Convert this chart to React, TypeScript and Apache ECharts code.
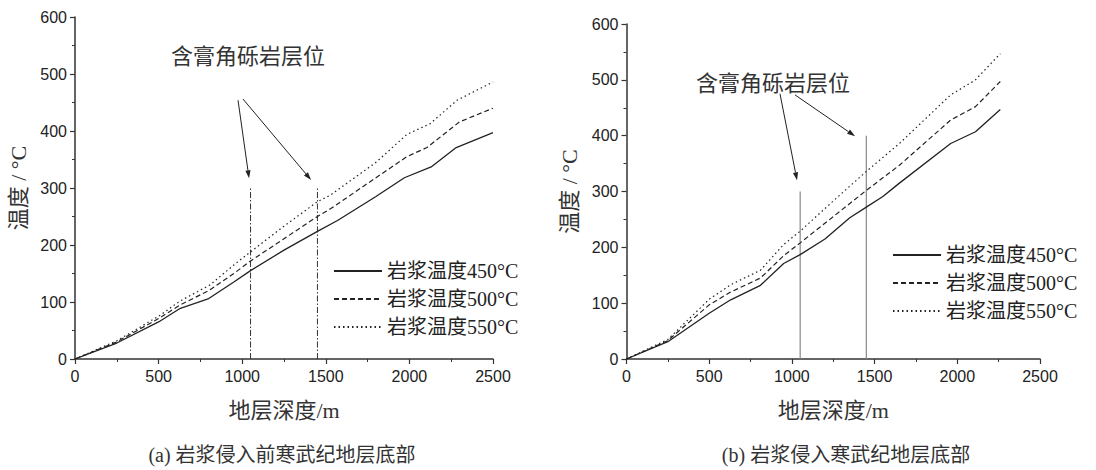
import React, { useEffect, useRef } from 'react';
import * as echarts from 'echarts';

// ---- data (depth m, temperature °C) ----
const seriesNames = ['岩浆温度450°C', '岩浆温度500°C', '岩浆温度550°C'];

const leftT450: [number, number][] = [[0,0],[250,28],[500,65],[630,89],[800,106],[950,135],[1050,155],[1250,191],[1450,224],[1570,243],[1800,285],[1970,318],[2130,337],[2280,371],[2500,397]];
const leftT500: [number, number][] = [[0,0],[250,30],[500,71],[630,95],[800,120],[950,150],[1050,172],[1250,211],[1450,250],[1530,264],[1800,318],[1985,355],[2105,371],[2300,416],[2500,440]];
const leftT550: [number, number][] = [[0,0],[250,32],[500,75],[630,102],[808,130],[950,165],[1050,188],[1250,233],[1450,276],[1530,288],[1800,345],[1985,394],[2125,413],[2285,454],[2500,486]];

const rightT450: [number, number][] = [[0,0],[250,31],[500,82],[630,106],[810,132],[950,171],[1050,187],[1200,215],[1350,253],[1450,272],[1550,291],[1650,315],[1960,386],[2110,407],[2260,447]];
const rightT500: [number, number][] = [[0,0],[250,33],[500,97],[630,120],[810,145],[950,185],[1050,208],[1250,255],[1450,302],[1650,347],[1960,428],[2110,452],[2260,497]];
const rightT550: [number, number][] = [[0,0],[250,35],[500,107],[630,133],[810,159],[950,205],[1050,229],[1250,283],[1450,336],[1650,386],[1960,473],[2110,500],[2260,547]];

// gypsum-breccia horizon markers: depth, top temperature
const leftMarkers: [number, number][] = [[1050, 300], [1450, 300]];
const rightMarkers: [number, number][] = [[1050, 300], [1450, 400]];

const annotationText = '含膏角砾岩层位';
// annotation anchor points in data coordinates: label centre, arrow starts and tips
const leftLabelAt: [number, number] = [1035, 530];
const leftArrows: [number, number, number, number][] = [[975, 454, 1041, 317], [1005, 456, 1412, 314]];
const rightLabelAt: [number, number] = [886, 493];
const rightArrows: [number, number, number, number][] = [[928, 475, 1031, 320], [1019, 473, 1382, 399]];

const captions = ['(a) 岩浆侵入前寒武纪地层底部', '(b) 岩浆侵入寒武纪地层底部'];
const xTitle = '地层深度/m';
const yTitle = '温度 / °C';

const SERIF = "'Liberation Serif', 'Noto Sans CJK SC', serif";
const SANS = "'Liberation Sans', Arial, sans-serif";
const INK = '#222';

const lineStyles = [
  { type: 'solid' as any, width: 1.3 },
  { type: [5, 3] as any, width: 1.2 },
  { type: [1.5, 3] as any, width: 1.2 },
];

const plain = (v: number) => String(v);

function makeXAxis(gridIndex: number) {
  return {
    gridIndex,
    type: 'value',
    min: 0,
    max: 2500,
    interval: 500,
    name: xTitle,
    nameLocation: 'middle',
    nameGap: 40,
    nameTextStyle: { fontFamily: SERIF, fontSize: 22, color: '#333' },
    axisLine: { show: true, onZero: false, lineStyle: { color: '#333', width: 1.5 } },
    axisTick: { show: true, inside: false, length: 5, lineStyle: { color: '#333', width: 1.2 } },
    minorTick: { show: true, splitNumber: 2, length: 3, lineStyle: { color: '#333', width: 1 } },
    splitLine: { show: false },
    axisLabel: { fontFamily: SANS, fontSize: 16, color: INK, margin: 9, formatter: plain },
  };
}

function makeYAxis(gridIndex: number) {
  return {
    gridIndex,
    type: 'value',
    min: 0,
    max: 600,
    interval: 100,
    name: yTitle,
    nameLocation: 'middle',
    nameGap: 46,
    nameTextStyle: { fontFamily: SERIF, fontSize: 22, color: '#333' },
    axisLine: { show: true, onZero: false, lineStyle: { color: '#333', width: 1.5 } },
    axisTick: { show: true, inside: false, length: 5, lineStyle: { color: '#333', width: 1.2 } },
    minorTick: { show: true, splitNumber: 2, length: 3, lineStyle: { color: '#333', width: 1 } },
    splitLine: { show: false },
    axisLabel: { fontFamily: SANS, fontSize: 16, color: INK, margin: 8, formatter: plain },
  };
}

function dataSeries(name: string, data: [number, number][], idx: number, styleIdx: number) {
  return {
    type: 'line',
    name,
    xAxisIndex: idx,
    yAxisIndex: idx,
    data,
    symbol: 'none',
    showSymbol: false,
    color: INK,
    lineStyle: { color: INK, ...lineStyles[styleIdx] },
    z: 3,
  };
}

function markerSeries(m: [number, number], idx: number, style: any) {
  return {
    type: 'line',
    name: 'marker' + idx + '_' + m[0],
    xAxisIndex: idx,
    yAxisIndex: idx,
    data: [[m[0], 0], [m[0], m[1]]],
    symbol: 'none',
    showSymbol: false,
    lineStyle: style,
    silent: true,
    z: 2,
  };
}

function legendFor(left: number, top: number) {
  return {
    data: seriesNames,
    left,
    top,
    orient: 'vertical',
    itemWidth: 48,
    itemHeight: 14,
    itemGap: 8,
    selectedMode: false,
    itemStyle: { opacity: 0 },
    textStyle: { fontFamily: SERIF, fontSize: 20, color: INK, lineHeight: 20 },
  };
}

function arrowGraphics(p0: number[], p1: number[]) {
  const dx = p1[0] - p0[0];
  const dy = p1[1] - p0[1];
  const len = Math.sqrt(dx * dx + dy * dy);
  const ux = dx / len, uy = dy / len;
  const hl = 8, hw = 2.6;
  const bx = p1[0] - ux * hl, by = p1[1] - uy * hl;
  return [
    { type: 'line', shape: { x1: p0[0], y1: p0[1], x2: bx, y2: by }, style: { stroke: INK, lineWidth: 1 }, silent: true },
    {
      type: 'polygon',
      shape: { points: [[p1[0], p1[1]], [bx - uy * hw, by + ux * hw], [bx + uy * hw, by - ux * hw]] },
      style: { fill: INK },
      silent: true,
    },
  ];
}

export default function App() {
  const ref = useRef<HTMLDivElement>(null);
  useEffect(() => {
    if (!ref.current) return;
    const chart = echarts.init(ref.current, null, { renderer: 'svg' });
    const leftSeries = [leftT450, leftT500, leftT550].map((d, i) => dataSeries(seriesNames[i], d, 0, i));
    const rightSeries = [rightT450, rightT500, rightT550].map((d, i) => dataSeries(seriesNames[i], d, 1, i));
    const leftMarkerStyle = { color: '#333', width: 1, type: [6, 2, 1.5, 2] };
    const rightMarkerStyle = { color: '#888', width: 1.2, type: 'solid' };
    const option: any = {
      animation: false,
      backgroundColor: '#ffffff',
      grid: [
        { left: 75, top: 17, width: 418, height: 342, containLabel: false },
        { left: 626.5, top: 24, width: 413.5, height: 335, containLabel: false },
      ],
      xAxis: [makeXAxis(0), makeXAxis(1)],
      yAxis: [makeYAxis(0), makeYAxis(1)],
      legend: [legendFor(328, 256), legendFor(887, 240)],
      series: [
        ...leftSeries,
        ...rightSeries,
        ...leftMarkers.map((m) => markerSeries(m, 0, leftMarkerStyle)),
        ...rightMarkers.map((m) => markerSeries(m, 1, rightMarkerStyle)),
      ],
    };
    chart.setOption(option);

    const graphics: any[] = [];
    const addAnno = (gi: number, labelAt: [number, number], arrows: [number, number, number, number][]) => {
      const c = chart.convertToPixel({ gridIndex: gi } as any, labelAt) as number[];
      graphics.push({
        type: 'text',
        x: c[0],
        y: c[1],
        style: { text: annotationText, fontFamily: SERIF, fontSize: 22, fill: '#333', align: 'center', verticalAlign: 'middle' },
        silent: true,
      });
      arrows.forEach((a) => {
        const p0 = chart.convertToPixel({ gridIndex: gi } as any, [a[0], a[1]]) as number[];
        const p1 = chart.convertToPixel({ gridIndex: gi } as any, [a[2], a[3]]) as number[];
        graphics.push(...arrowGraphics(p0, p1));
      });
    };
    addAnno(0, leftLabelAt, leftArrows);
    addAnno(1, rightLabelAt, rightArrows);
    graphics.push({
      type: 'text', x: 282, y: 455,
      style: { text: captions[0], fontFamily: SERIF, fontSize: 20, fill: '#333', align: 'center', verticalAlign: 'middle' },
      silent: true,
    });
    graphics.push({
      type: 'text', x: 846, y: 455,
      style: { text: captions[1], fontFamily: SERIF, fontSize: 20, fill: '#333', align: 'center', verticalAlign: 'middle' },
      silent: true,
    });
    chart.setOption({ graphic: graphics });

    return () => chart.dispose();
  }, []);
  return <div ref={ref} style={{ position: 'fixed', left: 0, top: 0, width: 1096, height: 470 }} />;
}
